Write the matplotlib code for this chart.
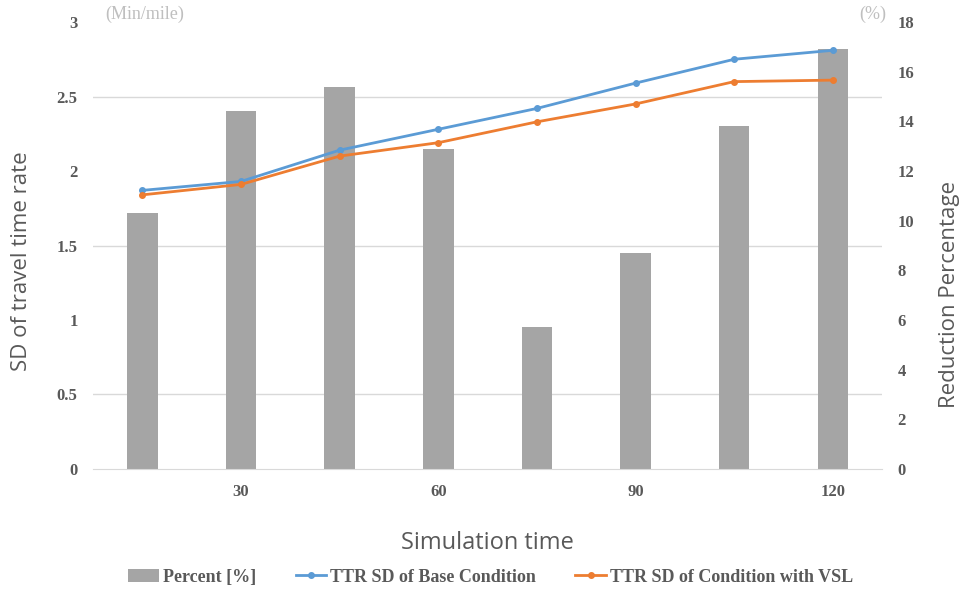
import numpy as np
import matplotlib.pyplot as plt

# data
times = [15, 30, 45, 60, 75, 90, 105, 120]
percent = [10.3, 14.4, 15.4, 12.9, 5.7, 8.7, 13.8, 16.9]
base_sd = [1.87, 1.93, 2.14, 2.28, 2.42, 2.59, 2.75, 2.81]
vsl_sd = [1.84, 1.91, 2.10, 2.19, 2.33, 2.45, 2.60, 2.61]

grey_txt = '#595959'
tick_font = dict(family='Liberation Serif', weight='bold', size=12, color=grey_txt)

fig = plt.figure(figsize=(9.62, 5.92), dpi=100)
ax = fig.add_axes([0.0967, 0.2078, 0.8203, 0.755])
ax2 = ax.twinx()
ax.set_zorder(2)
ax2.set_zorder(1)
ax.patch.set_visible(False)

x = np.arange(len(times))

# bars (right axis)
ax2.bar(x, percent, width=0.31, color='#A5A5A5', label='Percent [%]', zorder=2)
ax2.set_ylim(0, 18)
ax2.set_yticks(np.arange(0, 19, 2))
ax2.set_yticks(np.arange(0, 19, 3), minor=True)
ax2.yaxis.grid(True, which='minor', color='#D9D9D9', linewidth=1)
ax2.set_axisbelow(True)
ax2.tick_params(axis='y', which='both', length=0, pad=11)
for lab in ax2.get_yticklabels():
    lab.set(**tick_font)

# lines (left axis)
ax.plot(x, base_sd, color='#5B9BD5', lw=2, marker='o', ms=4,
        label='TTR SD of Base Condition')
ax.plot(x, vsl_sd, color='#ED7D31', lw=2, marker='o', ms=4,
        label='TTR SD of Condition with VSL')
ax.set_ylim(0, 3)
ax.set_yticks(np.arange(0, 3.01, 0.5))
ax.set_yticklabels(['0', '0.5', '1', '1.5', '2', '2.5', '3'])
ax.tick_params(axis='y', length=0, pad=11)
for lab in ax.get_yticklabels():
    lab.set(**tick_font)

ax.set_xlim(-0.5, len(times) - 0.5)
tick_pos = [i for i, t in enumerate(times) if t % 30 == 0]
ax.set_xticks(tick_pos)
ax.set_xticklabels([str(times[i]) for i in tick_pos])
ax.tick_params(axis='x', length=0, pad=11)
for lab in ax.get_xticklabels():
    lab.set(**tick_font)

for a in (ax, ax2):
    for s in ('top', 'left', 'right'):
        a.spines[s].set_visible(False)
    a.spines['bottom'].set_color('#D9D9D9')
ax2.spines['bottom'].set_visible(False)

ax.set_ylabel('SD of travel time rate', family='Open Sans', size=16,
              color=grey_txt)
ax.yaxis.set_label_coords(-0.077, 0.465)
ax2.set_ylabel('Reduction Percentage', family='Open Sans', size=16,
               color=grey_txt)
ax2.yaxis.set_label_coords(1.072, 0.39)
ax.set_xlabel('Simulation time', family='Open Sans', size=17,
              color=grey_txt, labelpad=22)

fig.text(0.109, 0.975, '(Min/mile)', family='Liberation Serif', size=13,
         color='#BFBFBF', va='center')
fig.text(0.893, 0.975, '(%)', family='Liberation Serif', size=13,
         color='#BFBFBF', va='center')

h1, l1 = ax2.get_legend_handles_labels()
h2, l2 = ax.get_legend_handles_labels()
leg = fig.legend(h1 + h2, l1 + l2, loc='center', bbox_to_anchor=(0.51, 0.025),
                 ncol=3, frameon=False, handlelength=1.7, handletextpad=0.2,
                 columnspacing=2.2,
                 prop=dict(family='Liberation Serif', weight='bold', size=13))
for t in leg.get_texts():
    t.set_color(grey_txt)

fig.savefig('out.png', dpi=100)
